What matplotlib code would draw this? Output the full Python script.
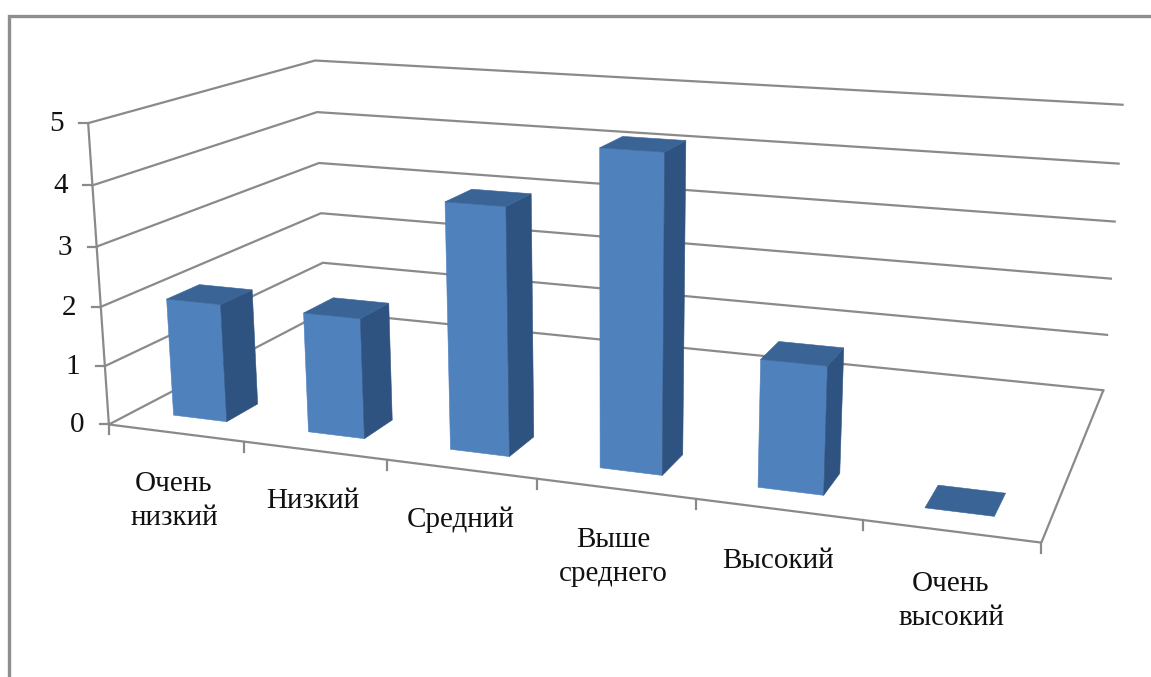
import numpy as np
import matplotlib
matplotlib.use("Agg")
import matplotlib.pyplot as plt

plt.rcParams['font.family'] = ['Liberation Serif', 'DejaVu Serif']

# chart data
categories = ["Очень\nнизкий", "Низкий", "Средний", "Выше\nсреднего", "Высокий", "Очень\nвысокий"]
values = [2, 2, 4, 5, 2, 0]
z_ticks = [0, 1, 2, 3, 4, 5]

# where each category label sits on the picture
label_x = [174, 313, 461, 613, 778, 951]
label_y = [501, 501, 520, 557, 561, 601]

FRONT = "#4F81BD"
SIDE = "#2F5380"
TOP = "#3A6496"
LINE = "#8A8A8A"

BAR_X = (0.29, 0.69)
BAR_Y = (0.105, 0.24)

# the chart box (x category, y depth, z value) against the pixels of the picture,
# used to fit one perspective matrix for everything drawn below
box_world = [(0, 0, 0), (0, 0, 1), (0, 0, 2), (0, 0, 3), (0, 0, 4), (0, 0, 5),
             (0, 1, 0), (0, 1, 1), (0, 1, 2), (0, 1, 3), (0, 1, 4), (0, 1, 5),
             (6, 1, 0), (6, 1, 1), (6, 1, 2), (6, 1, 3), (6, 1, 4), (6, 1, 5),
             (1, 0, 0), (2, 0, 0), (3, 0, 0), (4, 0, 0), (5, 0, 0), (6, 0, 0)]
box_pixel = [(109, 424), (105, 367), (100, 306), (97, 247), (93, 185), (88, 124),
             (325, 313), (323, 263), (321, 212), (319, 163), (317, 112), (315, 60),
             (1104, 389), (1107, 335), (1110, 280), (1114, 222), (1119, 163), (1123, 105),
             (244, 442), (387, 460), (536, 478), (695, 498), (864, 520), (1042, 543)]


def fit_projection(world, pixel):
    rows = []
    for (x, y, z), (u, v) in zip(world, pixel):
        rows.append([x, y, z, 1, 0, 0, 0, 0, -u * x, -u * y, -u * z, -u])
        rows.append([0, 0, 0, 0, x, y, z, 1, -v * x, -v * y, -v * z, -v])
    _, _, vt = np.linalg.svd(np.array(rows, dtype=float))
    return vt[-1].reshape(3, 4)


P = fit_projection(box_world, box_pixel)


def project(x, y, z):
    u, v, w = P @ np.array([x, y, z, 1.0])
    return u / w, v / w


def face(ax, corners, color):
    pts = [project(*c) for c in corners]
    ax.fill([p[0] for p in pts], [p[1] for p in pts], facecolor=color,
            edgecolor=color, linewidth=0.4, zorder=3)


def line3d(ax, a, b, **kw):
    pa, pb = project(*a), project(*b)
    ax.plot([pa[0], pb[0]], [pa[1], pb[1]], color=LINE, lw=1.6, solid_capstyle='butt', **kw)


fig = plt.figure(figsize=(11.51, 6.77), dpi=100)
ax = fig.add_axes([0, 0, 1, 1])
ax.set_xlim(0, 1151)
ax.set_ylim(677, 0)
ax.axis('off')

# outer frame, only top and left are visible
ax.plot([9.5, 9.5, 1151], [677, 15.5, 15.5], color="#8E8E8E", lw=2.4, solid_joinstyle='miter')

n = len(categories)

# gridlines along the left wall and back wall
for z in z_ticks:
    px, py = project(0, 0, z)
    ax.plot([px, project(0, 1, z)[0], project(n, 1, z)[0]],
            [py, project(0, 1, z)[1], project(n, 1, z)[1]], color=LINE, lw=1.6)
    ax.plot([px - 9, px], [py, py], color=LINE, lw=1.6)
    ax.text(px - 32, py + 1, str(z), fontsize=21, ha='center', va='center', color="#111111")

# value axis, floor edges and category ticks
line3d(ax, (0, 0, 0), (0, 0, 5))
line3d(ax, (0, 0, 0), (n, 0, 0))
line3d(ax, (n, 0, 0), (n, 1, 0))
for i in range(n + 1):
    px, py = project(i, 0, 0)
    ax.plot([px, px], [py, py + 10], color=LINE, lw=1.6)

# bars
for i, val in enumerate(values):
    x0, x1 = i + BAR_X[0], i + BAR_X[1]
    y0, y1 = BAR_Y
    if val > 0:
        face(ax, [(x0, y0, 0), (x1, y0, 0), (x1, y0, val), (x0, y0, val)], FRONT)
        face(ax, [(x1, y0, 0), (x1, y1, 0), (x1, y1, val), (x1, y0, val)], SIDE)
    face(ax, [(x0, y0, val), (x1, y0, val), (x1, y1, val), (x0, y1, val)], TOP)

for name, lx, ly in zip(categories, label_x, label_y):
    ax.text(lx, ly, name, fontsize=21, ha='center', va='center', color="#111111", linespacing=1.38)

fig.savefig("out.png", dpi=100)
